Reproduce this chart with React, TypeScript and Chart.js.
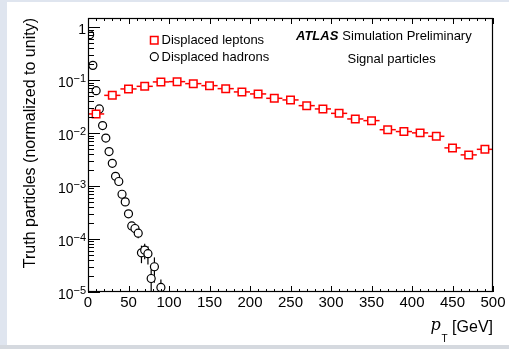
import React, { useEffect, useRef } from "react";
import { Chart, registerables } from "chart.js";

Chart.register(...registerables);

// ---- data ----
const leptonPt = [10, 30, 50, 70, 90, 110, 130, 150, 170, 190, 210, 230, 250, 270, 290, 310, 330, 350, 370, 390, 410, 430, 450, 470, 490];
const leptonFrac = [0.023, 0.0516, 0.0682, 0.0764, 0.0925, 0.0937, 0.0859, 0.0787, 0.0691, 0.0599, 0.0549, 0.0454, 0.0423, 0.033, 0.0286, 0.0236, 0.0185, 0.0172, 0.0116, 0.0107, 0.0101, 0.0087, 0.00526, 0.00388, 0.00494];
const leptonHalfBin = 10;

const hadronPt = [2, 6, 10, 14, 18, 22, 26, 30, 34, 38, 42, 46, 50, 54, 58, 62, 66, 70, 74, 78, 82, 90];
const hadronFrac = [0.722, 0.19, 0.0633, 0.0286, 0.0139, 0.00805, 0.00448, 0.00269, 0.00153, 0.00122, 0.0007, 0.000503, 0.000299, 0.000177, 0.000158, 0.000129, 5.5e-5, 6.15e-5, 5.3e-5, 1.8e-5, 3.0e-5, 1.22e-5];
const hadronErr = [0.004, 0.002, 0.001, 0.0006, 0.0004, 0.0003, 0.0002, 0.00015, 0.0001, 9e-5, 7e-5, 6e-5, 4e-5, 3e-5, 2.7e-5, 2.5e-5, 2.0e-5, 2.0e-5, 2.0e-5, 0.9e-5, 1.5e-5, 0.5e-5];

const xMajorTicks = [0, 50, 100, 150, 200, 250, 300, 350, 400, 450, 500];
const xMinorStep = 10;
const yDecadeExps = [0, -1, -2, -3, -4, -5];
const yMin = 1e-5;
const yMax = 1.49;

const legendLabels = ["Displaced leptons", "Displaced hadrons"];
const atlasLabel = "ATLAS";
const atlasSuffix = "Simulation Preliminary";
const subLabel = "Signal particles";
const yTitle = "Truth particles (normalized to unity)";

const FONT = "'Liberation Sans', Arial, Helvetica, sans-serif";
const RED = "#ff0000";

const rootPlugin = {
  id: "rootStyle",
  beforeDraw(chart: any) {
    const ctx = chart.ctx;
    ctx.save();
    ctx.fillStyle = "#dfe5ef";
    ctx.fillRect(0, 0, chart.width, chart.height);
    ctx.fillStyle = "#d5d9df";
    ctx.fillRect(0, 345, chart.width, 4);
    ctx.fillStyle = "#ffffff";
    ctx.fillRect(7, 2, chart.width - 7, 343);
    ctx.restore();
  },
  beforeDatasetsDraw(chart: any) {
    const ctx = chart.ctx;
    const xs = chart.scales.x;
    const ys = chart.scales.y;
    const a = chart.chartArea;
    ctx.save();
    ctx.beginPath();
    ctx.rect(a.left, a.top, a.right - a.left, a.bottom - a.top);
    ctx.clip();
    // lepton horizontal bin-width bars
    ctx.strokeStyle = RED;
    ctx.lineWidth = 1.5;
    leptonPt.forEach((pt, i) => {
      const y = ys.getPixelForValue(leptonFrac[i]);
      ctx.beginPath();
      ctx.moveTo(xs.getPixelForValue(pt - leptonHalfBin), y);
      ctx.lineTo(xs.getPixelForValue(pt + leptonHalfBin), y);
      ctx.stroke();
    });
    // hadron vertical stat error bars
    ctx.strokeStyle = "#000";
    ctx.lineWidth = 1.2;
    hadronPt.forEach((pt, i) => {
      const x = xs.getPixelForValue(pt);
      const lo = Math.max(hadronFrac[i] - hadronErr[i], yMin * 0.5);
      const hi = hadronFrac[i] + hadronErr[i];
      ctx.beginPath();
      ctx.moveTo(x, ys.getPixelForValue(lo));
      ctx.lineTo(x, ys.getPixelForValue(hi));
      ctx.stroke();
    });
    ctx.restore();
  },
  afterDatasetsDraw(chart: any) {
    const ctx = chart.ctx;
    const xs = chart.scales.x;
    const ys = chart.scales.y;
    const a = chart.chartArea;
    ctx.save();
    ctx.strokeStyle = "#000";
    ctx.fillStyle = "#000";
    ctx.lineWidth = 1.2;
    // frame
    ctx.strokeRect(a.left + 0.5, a.top + 0.5, a.right - a.left - 1, a.bottom - a.top - 1);
    // x ticks (bottom and top, inward)
    ctx.lineWidth = 1;
    for (let v = xMajorTicks[0]; v <= xMajorTicks[xMajorTicks.length - 1]; v += xMinorStep) {
      const x = Math.round(xs.getPixelForValue(v)) + 0.5;
      const len = xMajorTicks.includes(v) ? 6 : 3;
      ctx.beginPath();
      ctx.moveTo(x, a.bottom);
      ctx.lineTo(x, a.bottom - len);
      ctx.moveTo(x, a.top);
      ctx.lineTo(x, a.top + len);
      ctx.stroke();
    }
    // y ticks (left, inward)
    yDecadeExps.forEach((e) => {
      const base = Math.pow(10, e);
      for (let k = 1; k <= 9; k++) {
        const v = base * k;
        if (v > yMax || v < yMin) continue;
        const y = Math.round(ys.getPixelForValue(v)) + 0.5;
        const len = k === 1 ? 12 : 6;
        ctx.beginPath();
        ctx.moveTo(a.left, y);
        ctx.lineTo(a.left + len, y);
        ctx.stroke();
      }
    });
    // x tick labels
    ctx.font = `15px ${FONT}`;
    ctx.textAlign = "center";
    ctx.textBaseline = "alphabetic";
    xMajorTicks.forEach((v) => {
      ctx.fillText(String(v), xs.getPixelForValue(v), 307);
    });
    // y tick labels
    const right = 86;
    yDecadeExps.forEach((e) => {
      const y = ys.getPixelForValue(Math.pow(10, e));
      ctx.textAlign = "right";
      if (e === 0) {
        ctx.font = `14px ${FONT}`;
        ctx.fillText("1", right, y + 7);
      } else {
        const expText = "\u2212" + String(-e);
        ctx.font = `11px ${FONT}`;
        const ew = ctx.measureText(expText).width;
        ctx.fillText(expText, right, y + 1.5);
        ctx.font = `14px ${FONT}`;
        ctx.fillText("10", right - ew, y + 6.5);
      }
    });
    // y title
    ctx.save();
    ctx.translate(31, 18);
    ctx.rotate(-Math.PI / 2);
    ctx.font = `16px ${FONT}`;
    ctx.textAlign = "right";
    ctx.textBaseline = "middle";
    ctx.fillText(yTitle, 0, 0);
    ctx.restore();
    // x title  p_T [GeV]
    ctx.textAlign = "right";
    ctx.textBaseline = "alphabetic";
    ctx.font = `16px ${FONT}`;
    ctx.fillText("[GeV]", 493, 332);
    ctx.textAlign = "left";
    ctx.font = `10px ${FONT}`;
    ctx.fillText("T", 441.5, 341.5);
    ctx.font = `italic 16px 'DejaVu Serif', 'Liberation Serif', serif`;
    ctx.fillText("p", 430.5, 330);
    // legend
    ctx.lineWidth = 1.5;
    ctx.strokeStyle = RED;
    ctx.fillStyle = "#fff";
    ctx.beginPath();
    ctx.rect(150.5, 36.5, 7.5, 7.5);
    ctx.fill();
    ctx.stroke();
    ctx.strokeStyle = "#000";
    ctx.lineWidth = 1.2;
    ctx.beginPath();
    ctx.arc(154.3, 56.7, 4, 0, Math.PI * 2);
    ctx.fill();
    ctx.stroke();
    ctx.fillStyle = "#000";
    ctx.font = `13px ${FONT}`;
    ctx.textAlign = "left";
    ctx.textBaseline = "middle";
    ctx.fillText(legendLabels[0], 161.5, 40.5);
    ctx.fillText(legendLabels[1], 161.5, 57);
    // ATLAS label
    ctx.font = `italic bold 13px ${FONT}`;
    ctx.fillText(atlasLabel, 296, 36.5);
    const aw = ctx.measureText(atlasLabel).width;
    ctx.font = `13px ${FONT}`;
    ctx.fillText(atlasSuffix, 296 + aw + 4, 36.5);
    ctx.fillText(subLabel, 347.5, 59.5);
    ctx.restore();
  },
};

export default function App() {
  const ref = useRef<HTMLCanvasElement | null>(null);
  useEffect(() => {
    if (!ref.current) return;
    const chart = new Chart(ref.current, {
      type: "scatter",
      data: {
        datasets: [
          {
            label: legendLabels[0],
            data: leptonPt.map((x, i) => ({ x, y: leptonFrac[i] })),
            pointStyle: "rect",
            pointRadius: 5.3,
            borderColor: RED,
            backgroundColor: "#ffffff",
            borderWidth: 1.5,
            showLine: false,
          },
          {
            label: legendLabels[1],
            data: hadronPt.map((x, i) => ({ x, y: hadronFrac[i] })),
            pointStyle: "circle",
            pointRadius: 4,
            borderColor: "#000000",
            backgroundColor: "#ffffff",
            borderWidth: 1.2,
            showLine: false,
          },
        ],
      },
      options: {
        animation: false,
        responsive: false,
        devicePixelRatio: 1,
        layout: { padding: { left: 88, top: 18, right: 16, bottom: 57 } },
        plugins: { legend: { display: false }, tooltip: { enabled: false } },
        scales: {
          x: { type: "linear", min: 0, max: 500, display: false },
          y: { type: "logarithmic", min: yMin, max: yMax, display: false },
        },
      },
      plugins: [rootPlugin],
    });
    return () => chart.destroy();
  }, []);
  return (
    <div style={{ position: "absolute", left: 0, top: 0, width: 509, height: 349 }}>
      <canvas ref={ref} width={509} height={349} style={{ display: "block" }} />
    </div>
  );
}
